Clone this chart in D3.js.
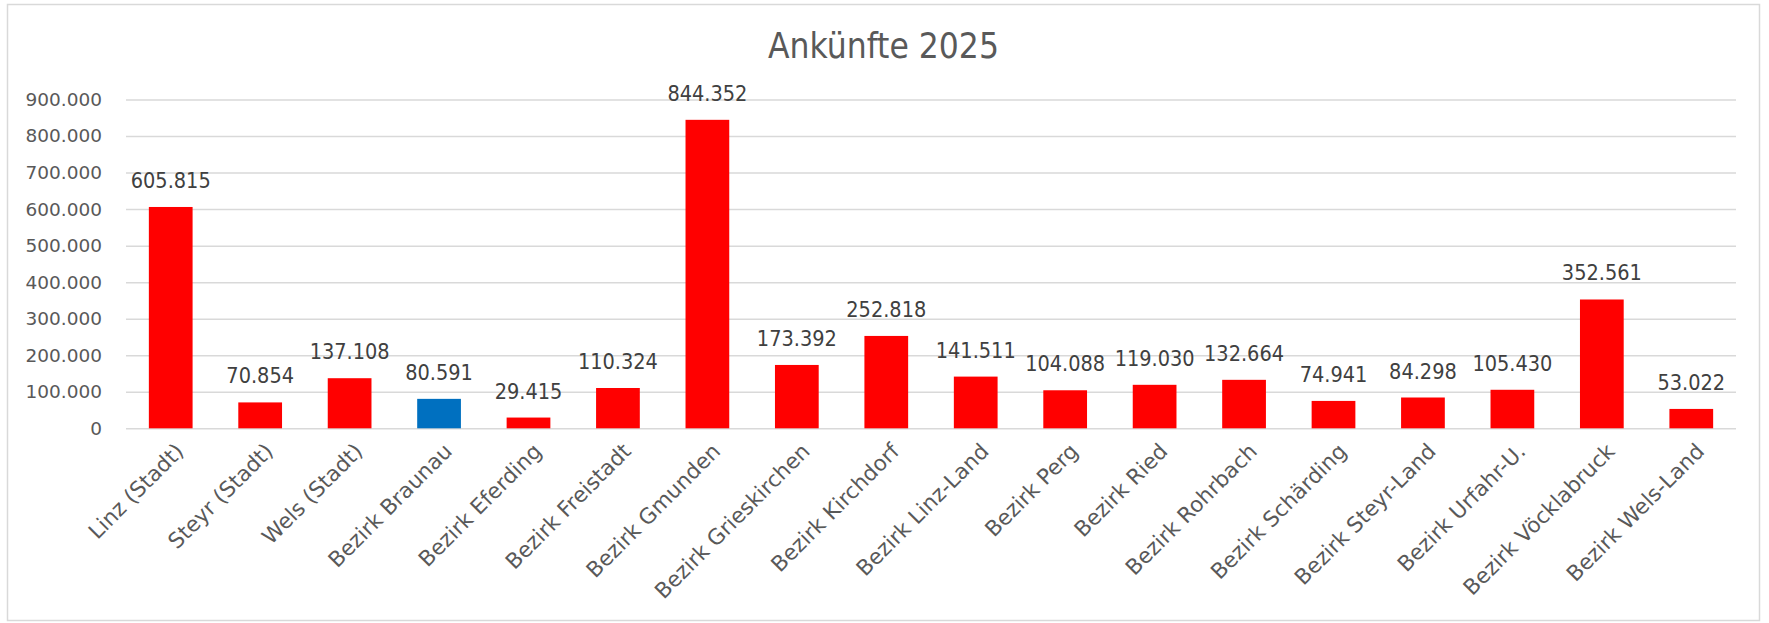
<!DOCTYPE html>
<html>
<head>
<meta charset="utf-8">
<script src="https://cdn.jsdelivr.net/npm/d3@7"></script>
<style>
  html, body { margin: 0; padding: 0; background: #fff; }
  svg { display: block; }
</style>
</head>
<body>
<svg id="chart" width="1769" height="623"></svg>
<script>
const chartTitle = "Ankünfte 2025";
const categories = [
  "Linz (Stadt)", "Steyr (Stadt)", "Wels (Stadt)", "Bezirk Braunau", "Bezirk Eferding",
  "Bezirk Freistadt", "Bezirk Gmunden", "Bezirk Grieskirchen", "Bezirk Kirchdorf",
  "Bezirk Linz-Land", "Bezirk Perg", "Bezirk Ried", "Bezirk Rohrbach", "Bezirk Schärding",
  "Bezirk Steyr-Land", "Bezirk Urfahr-U.", "Bezirk Vöcklabruck", "Bezirk Wels-Land"
];
const values = [
  605815, 70854, 137108, 80591, 29415, 110324, 844352, 173392, 252818,
  141511, 104088, 119030, 132664, 74941, 84298, 105430, 352561, 53022
];
const highlighted = ["Bezirk Braunau"];
const yTicks = [0, 100000, 200000, 300000, 400000, 500000, 600000, 700000, 800000, 900000];

const locale = d3.formatLocale({ decimal: ",", thousands: ".", grouping: [3], currency: ["€", ""] });
const fmt = locale.format(",d");

const svg = d3.select("#chart");

// frame
svg.append("rect")
  .attr("x", 7.5).attr("y", 4.5).attr("width", 1752).attr("height", 616)
  .attr("fill", "#fff").attr("stroke", "#d9d9d9").attr("stroke-width", 1.5);

const x = d3.scaleBand().domain(categories).range([126, 1736]).paddingInner(0.511).paddingOuter(0.2555);
const y = d3.scaleLinear().domain([0, 900000]).range([428.3, 99.5]);

// gridlines + y labels
const yAxis = d3.axisLeft(y).tickValues(yTicks).tickFormat(fmt).tickSize(-(1736 - 126)).tickPadding(24);
const gy = svg.append("g").attr("transform", "translate(126,0)").call(yAxis);
gy.select(".domain").remove();
gy.selectAll(".tick line").attr("stroke", "#d9d9d9").attr("stroke-width", 1.5);
gy.selectAll(".tick text")
  .attr("fill", "#595959")
  .style("font-family", "'DejaVu Sans', Verdana, sans-serif")
  .style("font-size", "18.5px");

// bars
svg.append("g").selectAll("rect").data(categories).join("rect")
  .attr("x", d => x(d))
  .attr("y", (d, i) => y(values[i]))
  .attr("width", x.bandwidth())
  .attr("height", (d, i) => y(0) - y(values[i]))
  .attr("fill", d => highlighted.includes(d) ? "#0070c0" : "#ff0000");

// data labels
svg.append("g").selectAll("text").data(categories).join("text")
  .attr("x", d => x(d) + x.bandwidth() / 2)
  .attr("y", (d, i) => y(values[i]) - 19)
  .attr("text-anchor", "middle")
  .attr("fill", "#404040")
  .style("font-family", "'Liberation Sans Narrow', 'DejaVu Sans Condensed', Roboto, sans-serif")
  .style("font-size", "21.5px")
  .text((d, i) => fmt(values[i]));

// x axis labels
const xAxis = d3.axisBottom(x).tickSize(0).tickPadding(0);
const gx = svg.append("g").attr("transform", "translate(0,428.3)").call(xAxis);
gx.select(".domain").remove();
gx.selectAll(".tick text")
  .attr("fill", "#595959")
  .attr("text-anchor", "end")
  .attr("dy", "0.35em")
  .attr("transform", "translate(9,19) rotate(-45)")
  .attr("y", 0)
  .style("font-family", "'DejaVu Sans', Verdana, sans-serif")
  .style("font-size", "21.5px");

// title
svg.append("text")
  .attr("x", 883.5).attr("y", 58)
  .attr("text-anchor", "middle")
  .attr("fill", "#595959")
  .style("font-family", "'DejaVu Sans', Tahoma, sans-serif")
  .style("font-stretch", "condensed")
  .style("font-size", "35px")
  .text(chartTitle);
</script>
</body>
</html>
